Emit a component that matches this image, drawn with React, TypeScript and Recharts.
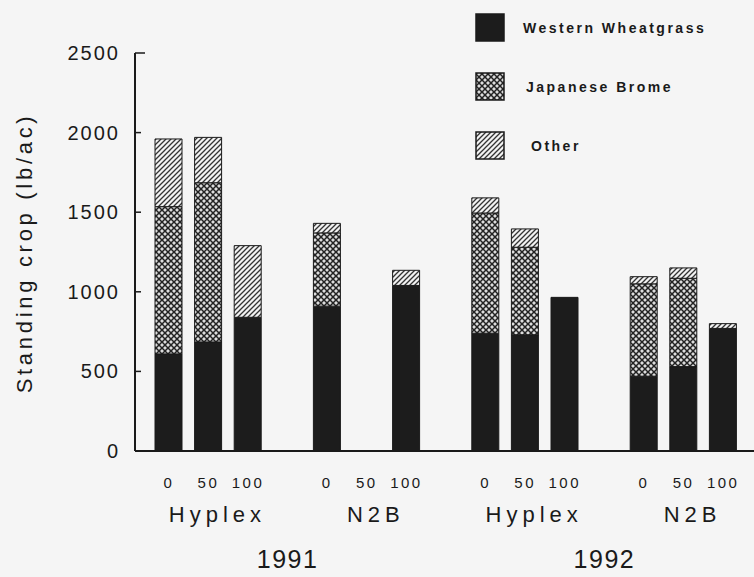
import React from 'react'
import { BarChart, Bar, XAxis, YAxis, Legend } from 'recharts'

const years = ['1991', '1992']
const sites = ['Hyplex', 'N2B']
const rates = ['0', '50', '100']

// one value per bar, in order: 1991 Hyplex 0/50/100, 1991 N2B 0/50/100, 1992 Hyplex ..., 1992 N2B ...
const westernWheatgrass = [610, 685, 840, 910, null, 1040, 740, 730, 965, 470, 530, 770]
const japaneseBrome = [925, 1000, 0, 460, null, 0, 755, 550, 0, 580, 555, 0]
const other = [425, 285, 450, 60, null, 95, 95, 115, 0, 45, 65, 30]

const yTicks = [0, 500, 1000, 1500, 2000, 2500]

const legendItems = [
  { name: 'Western Wheatgrass', fill: '#1c1c1c' },
  { name: 'Japanese Brome', fill: 'url(#brome)' },
  { name: 'Other', fill: 'url(#other)' },
]

// build the category table, with an empty slot between groups
// eslint-disable-next-line @typescript-eslint/no-explicit-any
const data: any[] = []
let k = 0
years.forEach((year, yi) => {
  sites.forEach((site, si) => {
    if (si === 1) data.push({ key: `gap-${year}`, rate: '', site: '', year })
    else if (yi > 0) data.push({ key: `gap-between-${yi}`, rate: '', site: '', year: '' })
    rates.forEach((rate, ri) => {
      data.push({
        key: `${year}-${site}-${rate}`,
        rate,
        site: ri === 1 ? site : '',
        year: '',
        ww: westernWheatgrass[k],
        jb: japaneseBrome[k],
        ot: other[k],
      })
      k++
    })
  })
})
const rowByKey: Record<string, any> = {}
data.forEach((d) => (rowByKey[d.key] = d))

const FONT = '"Liberation Sans", Arial, sans-serif'
const INK = '#1a1a1a'

const XTick = (props: any) => {
  const { x, y, payload } = props
  const row = rowByKey[payload.value]
  if (!row) return null
  return (
    <g>
      {row.rate && (
        <text x={x} y={y + 37} textAnchor="middle" fontSize={15} letterSpacing={2.5} fill={INK} fontFamily={FONT}>
          {row.rate}
        </text>
      )}
      {row.site && (
        <text x={x + 9} y={y + 71} textAnchor="middle" fontSize={22} letterSpacing={5} fill={INK} fontFamily={FONT}>
          {row.site}
        </text>
      )}
      {row.year && (
        <text x={x} y={y + 117} textAnchor="middle" fontSize={25} letterSpacing={1.5} fill={INK} fontFamily={FONT}>
          {row.year}
        </text>
      )}
    </g>
  )
}

const YTick = (props: any) => {
  const { x, y, payload } = props
  const ax = x + 15
  return (
    <g>
      {payload.value > 0 && (
        <line x1={ax} x2={ax + (payload.value === 2500 ? 10 : 6)} y1={y} y2={y} stroke={INK} strokeWidth={1.5} />
      )}
      <text x={x} y={y} dy="0.35em" textAnchor="end" fontSize={20} letterSpacing={2} fill={INK} fontFamily={FONT}>
        {payload.value}
      </text>
    </g>
  )
}

const YLabel = () => (
  <text
    x={32}
    y={253}
    transform="rotate(-90 32 253)"
    textAnchor="middle"
    fontSize={22}
    letterSpacing={3.7}
    fill={INK}
    fontFamily={FONT}
  >
    Standing crop (lb/ac)
  </text>
)

const renderLegend = () => (
  <svg width={280} height={160}>
    {legendItems.map((item, i) => (
      <g key={item.name}>
        <rect x={6} y={6 + i * 59} width={28} height={27} fill={item.fill} stroke={INK} strokeWidth={1.5} />
        <text
          x={53 + i * 3 + (i === 2 ? 2 : 0)}
          y={25 + i * 59}
          fontSize={14}
          fontWeight="bold"
          letterSpacing={2.5}
          fill={INK}
          fontFamily={FONT}
        >
          {item.name}
        </text>
      </g>
    ))}
  </svg>
)

export default function App() {
  return (
    <div style={{ position: 'absolute', left: 0, top: 0, width: 754, height: 577, background: '#f5f5f5' }}>
      <BarChart width={754} height={577} data={data} margin={{ top: 53, right: 0, bottom: 0, left: 0 }}>
        <defs>
          <pattern id="brome" patternUnits="userSpaceOnUse" width="6" height="6">
            <rect width="6" height="6" fill="#dcdcdc" />
            <path d="M0,6 L6,0 M-1,1 L1,-1 M5,7 L7,5" stroke="#222" strokeWidth="1.5" />
            <path d="M0,0 L6,6 M-1,5 L1,7 M5,-1 L7,1" stroke="#222" strokeWidth="1.5" />
          </pattern>
          <pattern id="other" patternUnits="userSpaceOnUse" width="5" height="5">
            <rect width="5" height="5" fill="#f2f2f2" />
            <path d="M0,5 L5,0 M-1,1 L1,-1 M4,6 L6,4" stroke="#333" strokeWidth="1.3" />
          </pattern>
        </defs>
        <XAxis
          dataKey="key"
          interval={0}
          height={126}
          tickSize={0}
          tickMargin={0}
          tick={<XTick />}
          padding={{ left: 14, right: 11 }}
          axisLine={{ stroke: INK, strokeWidth: 2 }}
        />
        <YAxis
          width={135}
          domain={[0, 2500]}
          ticks={yTicks}
          tickSize={0}
          tickMargin={15}
          tickLine={false}
          tick={<YTick />}
          axisLine={{ stroke: INK, strokeWidth: 2 }}
          label={{ content: <YLabel /> }}
        />
        <Legend
          layout="horizontal"
          verticalAlign="middle"
          align="center"
          content={renderLegend}
          wrapperStyle={{ position: 'absolute', left: 470, top: 8, width: 280, height: 160 }}
        />
        <Bar dataKey="ww" name="Western Wheatgrass" stackId="a" barSize={27} fill="#1c1c1c" stroke={INK} strokeWidth={1} isAnimationActive={false} />
        <Bar dataKey="jb" name="Japanese Brome" stackId="a" barSize={27} fill="url(#brome)" stroke={INK} strokeWidth={1} isAnimationActive={false} />
        <Bar dataKey="ot" name="Other" stackId="a" barSize={27} fill="url(#other)" stroke={INK} strokeWidth={1} isAnimationActive={false} />
      </BarChart>
    </div>
  )
}
